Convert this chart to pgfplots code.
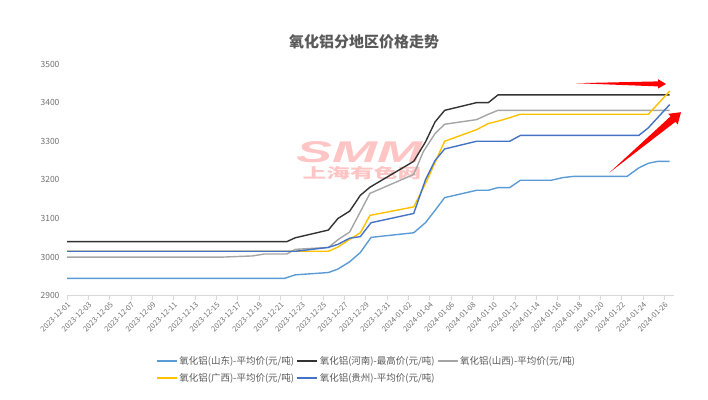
\documentclass[border=0pt]{standalone}
\usepackage{fontspec}
\setmainfont{Noto Sans CJK SC}
\newfontfamily\smmfont{Liberation Sans}
\usepackage{pgfplots}
\pgfplotsset{compat=1.18}
\definecolor{cSD}{HTML}{5B9BD5}
\definecolor{cHN}{HTML}{333333}
\definecolor{cSX}{HTML}{A5A5A5}
\definecolor{cGX}{HTML}{FFC000}
\definecolor{cGZ}{HTML}{4472C4}
\definecolor{labelgray}{HTML}{707070}
\definecolor{legendgray}{HTML}{595959}
\definecolor{axisgray}{HTML}{D9D9D9}
\definecolor{wm}{HTML}{FFC4C4}
\begin{document}
\begin{tikzpicture}[x=1pt,y=1pt]
\useasboundingbox (0,0) rectangle (708,399);
% watermark
\node[text=wm, font=\smmfont\bfseries\itshape\fontsize{30}{30}\selectfont, xscale=1.8, inner sep=0pt] at (359,246.5) {\textbf{SMM}};
\node[text=wm, font=\bfseries\fontsize{14}{14}\selectfont, xscale=1.7, inner sep=0pt] at (362,225.5) {上海有色网};
% title
\node[text=legendgray, font=\bfseries\fontsize{15}{16}\selectfont] at (364,357) {氧化铝分地区价格走势};
\begin{axis}[
  at={(67pt,103.3pt)}, anchor=south west,
  scale only axis, width=607pt, height=231.7pt,
  xmin=0, xmax=56.9, ymin=2900, ymax=3500,
  ytick={2900,3000,...,3500},
  xtick={0,2,...,56},
  xticklabels={2023-12-01,2023-12-03,2023-12-05,2023-12-07,2023-12-09,2023-12-11,2023-12-13,2023-12-15,2023-12-17,2023-12-19,2023-12-21,2023-12-23,2023-12-25,2023-12-27,2023-12-29,2023-12-31,2024-01-02,2024-01-04,2024-01-06,2024-01-08,2024-01-10,2024-01-12,2024-01-14,2024-01-16,2024-01-18,2024-01-20,2024-01-22,2024-01-24,2024-01-26},
  xticklabel style={rotate=45, anchor=north east, font=\fontsize{7.5}{8}\selectfont, text=labelgray, inner sep=1pt},
  yticklabel style={font=\fontsize{8.5}{10}\selectfont, text=labelgray},
  /pgf/number format/assume math mode=true,
  /pgf/number format/set thousands separator={},
  axis x line*=bottom, axis y line*=left,
  y axis line style={draw=none},
  x axis line style={draw=axisgray, line width=0.8pt, -},
  xtick style={draw=axisgray, line width=0.8pt},
  ytick style={draw=none},
  tick align=outside, major tick length=4pt,
  clip=false,
  every axis plot/.append style={line width=1.4pt, line join=round},
  legend columns=3,
  legend image code/.code={\draw[#1, line width=1.6pt] (0pt,0pt) -- (20pt,0pt);},
  legend style={at={(0.1466,-0.255)}, anchor=north west, draw=none, fill=none,
    font=\fontsize{9.5}{11}\selectfont, text=legendgray, inner sep=0pt,
    nodes={inner sep=1.5pt}, row sep=4pt,
    /tikz/every even column/.append style={column sep=1pt}},
]
\addplot[cSD] coordinates {(0,2945) (20.4,2945) (21.4,2954) (24.5,2960) (25.4,2969) (26.5,2988) (27.5,3012) (28.5,3051) (32.5,3063) (33.6,3089) (34.5,3121) (35.4,3154) (38.4,3173) (39.5,3173) (40.4,3180) (41.5,3180) (42.5,3199) (45.4,3199) (46.5,3206) (47.5,3209) (52.5,3209) (53.6,3231) (54.5,3243) (55.4,3248) (56.5,3248)};
\addlegendentry{氧化铝(山东)-平均价(元/吨)}
\addplot[cHN] coordinates {(0,3040) (20.6,3040) (21.4,3050) (24.5,3070) (25.4,3100) (26.5,3119) (27.5,3160) (28.4,3181) (32.5,3248) (33.6,3298) (34.5,3350) (35.4,3380) (38.4,3400) (39.5,3400) (40.4,3420) (56.5,3420)};
\addlegendentry{氧化铝(河南)-最高价(元/吨)}
\addplot[cSX] coordinates {(0,3000) (14.6,3000) (17.4,3003) (18.5,3008) (20.6,3008) (21.4,3020) (24.5,3025) (25.4,3045) (26.5,3065) (28.4,3165) (32.5,3214) (33.4,3273) (34.5,3320) (35.4,3344) (38.4,3356) (39.5,3370) (40.4,3380) (56.5,3380)};
\addlegendentry{氧化铝(山西)-平均价(元/吨)}
\addplot[cGX] coordinates {(0,3015) (24.5,3015) (25.4,3026) (26.5,3046) (27.5,3063) (28.4,3108) (32.5,3130) (33.6,3190) (34.5,3245) (35.4,3300) (38.4,3330) (39.5,3346) (40.4,3352) (41.5,3361) (42.5,3370) (54.5,3370) (56.5,3430)};
\addlegendentry{氧化铝(广西)-平均价(元/吨)}
\addplot[cGZ] coordinates {(0,3015) (21.4,3015) (24.5,3025) (25.4,3033) (26.5,3049) (27.5,3053) (28.5,3089) (32.5,3113) (33.6,3200) (34.5,3250) (35.4,3280) (38.4,3300) (41.5,3300) (42.5,3315) (53.6,3315) (54.5,3335) (56.5,3395)};
\addlegendentry{氧化铝(贵州)-平均价(元/吨)}
\end{axis}
% red arrows (annotations)
\fill[red] (576,315.8) -- (658,317.6) -- (658,319.8) -- (666,315) -- (658,310.4) -- (658,312.6) -- cycle;
\fill[red] (609.3,226.3) -- (670.5,282.6) -- (668.3,285.2) -- (681,286.8) -- (677.7,274.6) -- (675.4,277.2) -- cycle;
\end{tikzpicture}
\end{document}
